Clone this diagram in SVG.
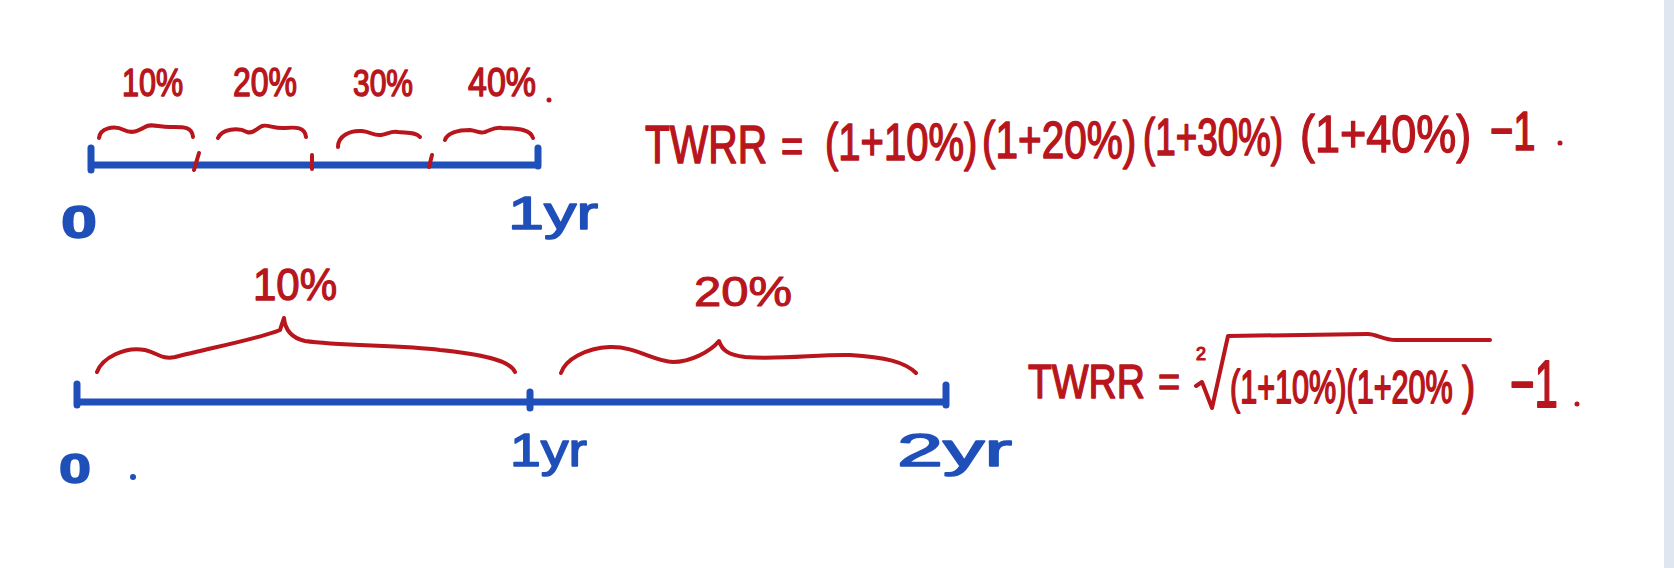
<svg xmlns="http://www.w3.org/2000/svg" width="1674" height="568" viewBox="0 0 1674 568">
  <style>
    .red { fill: #b8151c; stroke: #b8151c; stroke-width: 1.2; stroke-linejoin: round; font-family: "Liberation Sans", "DejaVu Sans", sans-serif; }
    .blue { fill: #1f4fb8; stroke: #1f4fb8; stroke-width: 1.5; stroke-linejoin: round; font-family: "Liberation Sans", "DejaVu Sans", sans-serif; }
    .rline { fill: none; stroke: #b8151c; stroke-width: 4; stroke-linecap: round; stroke-linejoin: round; }
    .bline { fill: none; stroke: #1f4fb8; stroke-width: 7; stroke-linecap: round; stroke-linejoin: round; }
  </style>
  <rect x="0" y="0" width="1674" height="568" fill="#ffffff"/>
  <rect x="1664" y="0" width="10" height="568" fill="#dfe6f0"/>

  <g id="connectors">
    <path class="bline" d="M91,165 L538,165 M91,148 L91,170 M538,148 L538,166"/>
    <path class="rline" d="M199,153 L194,170 M312,155 L312,169 M432,155 L429,167"/>
    <path class="rline" d="M99,138 C100,128 114,125 124,130 C132,134 138,131 145,127 C151,123 158,127 170,127 C182,127 192,126 193,137"/>
    <path class="rline" d="M218,138 C222,129 238,127 247,132 C253,134 256,129 262,126 C268,124 274,129 285,128 C296,127 305,127 306,137"/>
    <path class="rline" d="M338,147 C338,136 350,130 362,131 C372,132 373,136 381,135 C388,134 390,131 398,132 C408,133 416,132 420,137"/>
    <path class="rline" d="M445,140 C447,133 458,130 470,130 C478,131 480,134 485,132 C491,130 494,127 502,128 C515,129 530,128 533,138"/>
    <path class="bline" d="M77,402 L946,402 M77,384 L77,405 M530,392 L530,408 M946,385 L946,405"/>
    <path class="rline" d="M97,372 C102,358 125,346 145,350 C158,353 162,360 175,357 C210,348 262,338 280,330 L284,318 C285,330 292,338 305,341 C340,346 400,345 440,350 C480,354 510,360 515,372"/>
    <path class="rline" d="M561,373 C565,360 585,348 610,347 C635,346 655,362 673,362 C690,362 710,352 719,341 C722,350 728,355 745,357 C780,360 820,354 850,355 C885,357 905,362 916,373"/>
    <path class="rline" d="M1196,386 L1202,382 L1212,408 L1228,336 L1368,334 C1376,334 1384,340 1396,340 L1490,340"/>
  </g>

  <g id="top-labels">
    <text class="red" transform="translate(122,96) scale(1,1.25)" font-size="30.5">10%</text>
    <text class="red" transform="translate(233,96) scale(1,1.25)" font-size="32">20%</text>
    <text class="red" transform="translate(353,96) scale(1,1.25)" font-size="30">30%</text>
    <text class="red" transform="translate(468,96) scale(1,1.2)" font-size="34">40%</text>
    <circle cx="549" cy="100" r="2.5" fill="#b8151c"/>
  </g>

  <g id="top-axis-labels">
    <text class="blue" x="61" y="238" font-size="46" font-weight="bold" textLength="36" lengthAdjust="spacingAndGlyphs">0</text>
    <text class="blue" x="508" y="229" font-size="46" textLength="90" lengthAdjust="spacingAndGlyphs">1yr</text>
  </g>

  <g id="formula-1">
    <text class="red" transform="translate(645,163) scale(1,1.3)" font-size="40.7">TWRR</text>
    <text class="red" transform="translate(781,162) scale(1,1.2)" font-size="38">=</text>
    <text class="red" transform="translate(825,160) scale(1,1.3)" font-size="40">(1+10%)</text>
    <text class="red" transform="translate(982,158) scale(1,1.3)" font-size="40.5">(1+20%)</text>
    <text class="red" transform="translate(1143,155) scale(1,1.4)" font-size="36.8">(1+30%)</text>
    <text class="red" transform="translate(1300,152) scale(1,1.15)" font-size="45">(1+40%)</text>
    <text class="red" transform="translate(1490,150) scale(1,1.4)" font-size="40">−1</text>
    <circle cx="1560" cy="143" r="2.5" fill="#b8151c"/>
  </g>

  <g id="bottom-labels">
    <text class="red" transform="translate(253,300) scale(1,1.05)" font-size="42">10%</text>
    <text class="red" transform="translate(694,306) scale(1,0.85)" font-size="49">20%</text>
  </g>

  <g id="bottom-axis-labels">
    <text class="blue" x="59" y="483" font-size="42" font-weight="bold" textLength="32" lengthAdjust="spacingAndGlyphs">0</text>
    <circle cx="133" cy="477" r="3" fill="#1f4fb8"/>
    <text class="blue" x="510" y="466" font-size="46" textLength="77" lengthAdjust="spacingAndGlyphs">1yr</text>
    <text class="blue" x="897" y="466" font-size="46" textLength="115" lengthAdjust="spacingAndGlyphs">2yr</text>
  </g>

  <g id="formula-2">
    <text class="red" transform="translate(1028,398) scale(1,1.25)" font-size="39">TWRR</text>
    <text class="red" transform="translate(1158,396) scale(1,1.1)" font-size="38">=</text>
    <text class="red" x="1196" y="360" font-size="18">2</text>
    <text class="red" transform="translate(1230,403) scale(1,1.5)" font-size="30.6">(1+10%)(1+20%</text>
    <text class="red" transform="translate(1462,403) scale(1,1.3)" font-size="40">)</text>
    <text class="red" transform="translate(1510,407) scale(1,1.6)" font-size="42">−1</text>
    <circle cx="1577" cy="404" r="2.5" fill="#b8151c"/>
  </g>
</svg>
